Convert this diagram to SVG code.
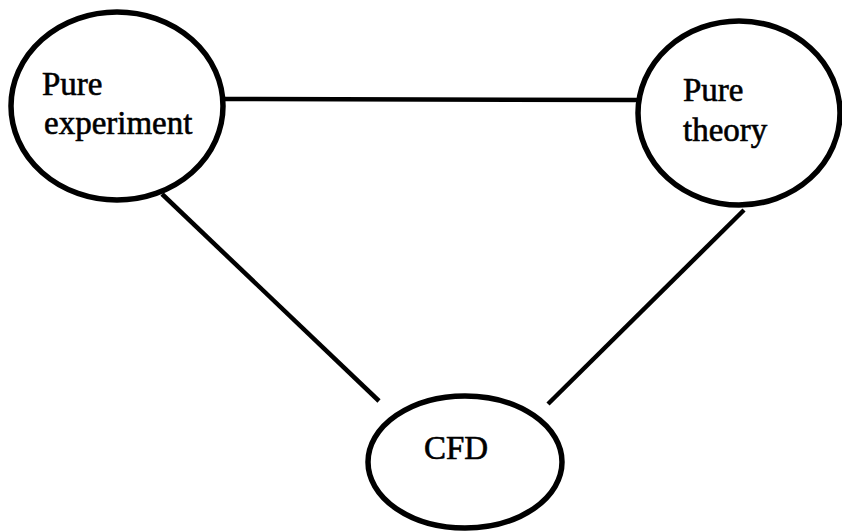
<svg xmlns="http://www.w3.org/2000/svg" width="842" height="531" viewBox="0 0 842 531">
<style>
.node{fill:#fff;stroke:#000;stroke-width:5.5}
.edge{stroke:#000;stroke-width:4.5;fill:none}
text{font-family:"Liberation Serif","Times New Roman",serif;font-size:33px;fill:#000;stroke:#000;stroke-width:0.6}
</style>
<rect width="842" height="531" fill="#fff"/>
<g id="connectors">
<line class="edge" x1="224" y1="99" x2="638" y2="100"/>
<line class="edge" x1="162" y1="194" x2="379" y2="401"/>
<line class="edge" x1="744" y1="210" x2="548" y2="404"/>
</g>
<g id="pure-experiment">
<ellipse class="node" cx="117" cy="106" rx="106" ry="94"/>
<text x="42" y="95">Pure</text>
<text x="44" y="134">experiment</text>
</g>
<g id="pure-theory">
<ellipse class="node" cx="739" cy="113" rx="101" ry="92"/>
<text x="683" y="101">Pure</text>
<text x="683" y="141">theory</text>
</g>
<g id="cfd">
<ellipse class="node" cx="465" cy="462" rx="97" ry="66"/>
<text x="424" y="459">CFD</text>
</g>
</svg>
